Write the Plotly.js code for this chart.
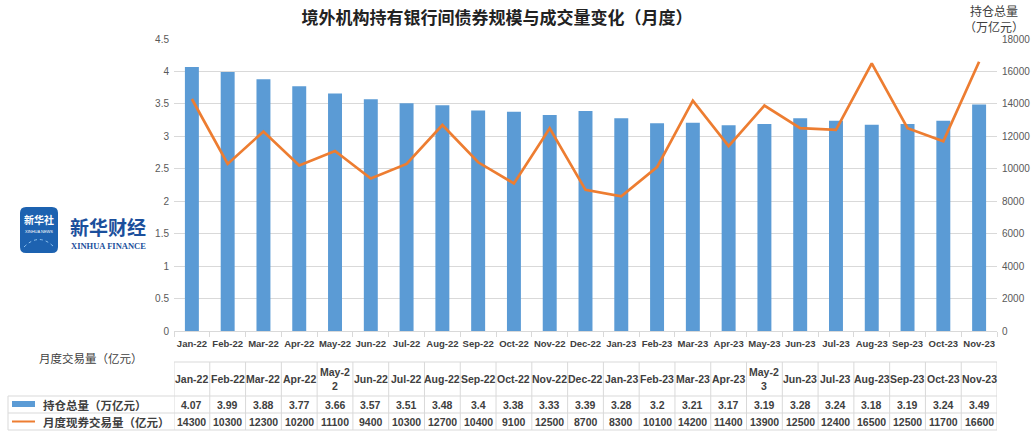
<!DOCTYPE html>
<html><head><meta charset="utf-8">
<script src="https://cdn.plot.ly/plotly-3.0.1.min.js"></script>
<style>html,body{margin:0;padding:0;background:#fff}#c{width:1031px;height:435px}</style>
</head><body><div id="c"></div>
<script>
const months = ['Jan-22','Feb-22','Mar-22','Apr-22','May-22','Jun-22','Jul-22','Aug-22','Sep-22','Oct-22','Nov-22','Dec-22','Jan-23','Feb-23','Mar-23','Apr-23','May-23','Jun-23','Jul-23','Aug-23','Sep-23','Oct-23','Nov-23'];
const headerLabels = ['Jan-22','Feb-22','Mar-22','Apr-22','May-2<br>2','Jun-22','Jul-22','Aug-22','Sep-22','Oct-22','Nov-22','Dec-22','Jan-23','Feb-23','Mar-23','Apr-23','May-2<br>3','Jun-23','Jul-23','Aug-23','Sep-23','Oct-23','Nov-23'];
const holdings = [4.07,3.99,3.88,3.77,3.66,3.57,3.51,3.48,3.4,3.38,3.33,3.39,3.28,3.2,3.21,3.17,3.19,3.28,3.24,3.18,3.19,3.24,3.49];
const volume = [14300,10300,12300,10200,11100,9400,10300,12700,10400,9100,12500,8700,8300,10100,14200,11400,13900,12500,12400,16500,12500,11700,16600];
const holdingsName = '持仓总量（万亿元）';
const volumeName = '月度现券交易量（亿元）';

// pixel -> paper helpers (paper spans x 8..997, y 39..432)
const L = 8, R = 997, T = 39, B = 432;
const px = x => (x - L) / (R - L);
const py = y => (B - y) / (B - T);

const FONT = 'Liberation Sans, Arial, sans-serif';
const CJK = 'Noto Sans CJK SC, sans-serif';
const TXT = '#404040';
const GRID = '#d9d9d9';

const bars = {type:'bar', x: months, y: holdings, name: holdingsName, marker:{color:'#5b9bd5'}, xaxis:'x', yaxis:'y', hoverinfo:'skip'};
const line = {type:'scatter', mode:'lines', x: months, y: volume, name: volumeName, line:{color:'#ed7d31', width:2.7}, xaxis:'x', yaxis:'y2', hoverinfo:'skip'};

function roundRect(x0,y0,x1,y1,r){
  const X=v=>px(v), Y=v=>py(v);
  return `M${X(x0+r)},${Y(y0)} L${X(x1-r)},${Y(y0)} Q${X(x1)},${Y(y0)} ${X(x1)},${Y(y0+r)} L${X(x1)},${Y(y1-r)} Q${X(x1)},${Y(y1)} ${X(x1-r)},${Y(y1)} L${X(x0+r)},${Y(y1)} Q${X(x0)},${Y(y1)} ${X(x0)},${Y(y1-r)} L${X(x0)},${Y(y0+r)} Q${X(x0)},${Y(y0)} ${X(x0+r)},${Y(y0)} Z`;
}

// data table drawn with shapes + annotations on the category axis
const shapes = [];
const annotations = [];
const tableTop = 362, headBot = 396, row1Bot = 413, tableBot = 430;
shapes.push({type:'line', xref:'x', yref:'paper', x0:-0.5, x1:months.length-0.5, y0:py(tableTop), y1:py(tableTop), line:{color:GRID, width:1}});
[headBot,row1Bot,tableBot].forEach(yy=>shapes.push({type:'line', xref:'paper', yref:'paper', x0:0, x1:1, y0:py(yy), y1:py(yy), line:{color:GRID, width:1}}));
for(let i=0;i<=months.length;i++){
  shapes.push({type:'line', xref:'x', yref:'paper', x0:i-0.5, x1:i-0.5, y0:py(tableTop), y1:py(tableBot), line:{color:GRID, width:1}});
}
shapes.push({type:'line', xref:'paper', yref:'paper', x0:0, x1:0, y0:py(headBot), y1:py(tableBot), line:{color:GRID, width:1}});
months.forEach((m,i)=>{
  annotations.push({text:headerLabels[i], xref:'x', yref:'paper', x:m, y:py(379), xanchor:'center', yanchor:'middle', showarrow:false, font:{family:FONT, size:10.5, color:TXT, weight:'bold'}});
  annotations.push({text:String(holdings[i]), xref:'x', yref:'paper', x:m, y:py(404.5), xanchor:'center', yanchor:'middle', showarrow:false, font:{family:FONT, size:10.5, color:TXT, weight:'bold'}});
  annotations.push({text:String(volume[i]), xref:'x', yref:'paper', x:m, y:py(421.5), xanchor:'center', yanchor:'middle', showarrow:false, font:{family:FONT, size:10.5, color:TXT, weight:'bold'}});
});

shapes.push(
  {type:'rect', xref:'paper', yref:'paper', x0:px(12), x1:px(35), y0:py(407), y1:py(401), fillcolor:'#5b9bd5', line:{width:0}, layer:'above'},
  {type:'line', xref:'paper', yref:'paper', x0:px(12), x1:px(35), y0:py(421.5), y1:py(421.5), line:{color:'#ed7d31', width:2}, layer:'above'},
  {type:'path', xref:'paper', yref:'paper', path: roundRect(20,207,58,253,6), fillcolor:'#1d62b0', line:{width:0}, layer:'above'},
  {type:'path', xref:'paper', yref:'paper', path: `M${px(24)},${py(247)} Q${px(39)},${py(232)} ${px(54)},${py(247)}`, line:{color:'#8fc2ee', width:1, dash:'dot'}, layer:'above'}
);
annotations.push(
  {text:'持仓总量<br>（万亿元）', xref:'paper', yref:'paper', x:px(994), y:py(18), xanchor:'center', yanchor:'middle', showarrow:false, font:{family:CJK, size:12, color:TXT}},
  {text:'月度交易量（亿元）', xref:'paper', yref:'paper', x:px(37), y:py(358), xanchor:'left', yanchor:'middle', showarrow:false, font:{family:CJK, size:11.5, color:TXT}},
  {text:holdingsName, xref:'paper', yref:'paper', x:px(41), y:py(404.5), xanchor:'left', yanchor:'middle', showarrow:false, font:{family:CJK, size:11.5, color:TXT, weight:'bold'}},
  {text:volumeName, xref:'paper', yref:'paper', x:px(41), y:py(421.5), xanchor:'left', yanchor:'middle', showarrow:false, font:{family:CJK, size:11.5, color:TXT, weight:'bold'}},
  {text:'新华社', xref:'paper', yref:'paper', x:px(39), y:py(220), xanchor:'center', yanchor:'middle', showarrow:false, font:{family:CJK, size:10, color:'#ffffff', weight:'bold'}},
  {text:'XINHUA NEWS', xref:'paper', yref:'paper', x:px(39), y:py(231), xanchor:'center', yanchor:'middle', showarrow:false, font:{family:FONT, size:4, color:'#ffffff'}},
  {text:'新华财经', xref:'paper', yref:'paper', x:px(108), y:py(226), xanchor:'center', yanchor:'middle', showarrow:false, font:{family:CJK, size:19, color:'#1b4f9c', weight:'bold'}},
  {text:'XINHUA FINANCE', xref:'paper', yref:'paper', x:px(108), y:py(246), xanchor:'center', yanchor:'middle', showarrow:false, font:{family:'Liberation Serif, serif', size:8.5, color:'#1b4f9c', weight:'bold'}}
);

const layout = {
  width:1031, height:435,
  margin:{l:L, r:1031-R, t:T, b:435-B},
  paper_bgcolor:'#ffffff', plot_bgcolor:'#ffffff',
  showlegend:false,
  bargap:0.61,
  title:{text:'境外机构持有银行间债券规模与成交量变化（月度）', font:{family:CJK, size:17, color:'#222222', weight:'bold'}, xref:'container', x:497/1031, xanchor:'center', yref:'container', y:1-18/435, yanchor:'middle'},
  xaxis:{type:'category', domain:[px(174),1], range:[-0.5,22.5], showgrid:false, showline:true, linecolor:GRID, linewidth:1,
    ticks:'outside', tickson:'boundaries', ticklen:5, tickcolor:GRID, tickfont:{family:FONT, size:9.5, color:TXT, weight:'bold'}, tickangle:0, ticklabelstandoff:4, fixedrange:true},
  yaxis:{domain:[py(331),1], range:[0,4.5], dtick:0.5, tick0:0, gridcolor:GRID, gridwidth:1, zeroline:false, showline:false,
    tickfont:{family:FONT, size:10, color:'#595959'}, ticklabelstandoff:4},
  yaxis2:{overlaying:'y', side:'right', range:[0,18000], dtick:2000, tick0:0, tickformat:'d', showgrid:false, zeroline:false, showline:false,
    tickfont:{family:FONT, size:10, color:'#595959'}, ticklabelstandoff:4},
  shapes: shapes,
  annotations: annotations
};

Plotly.newPlot('c', [bars, line], layout, {staticPlot:true, displayModeBar:false});
</script>
</body></html>
